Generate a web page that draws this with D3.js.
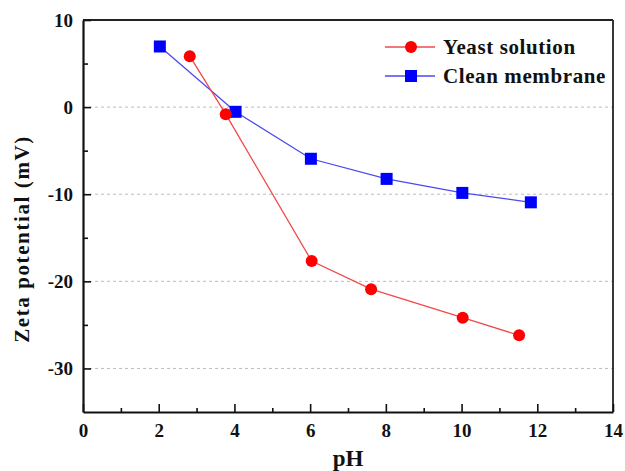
<!DOCTYPE html>
<html><head><meta charset="utf-8">
<script src="https://cdn.jsdelivr.net/npm/d3@7"></script>
<style>body{margin:0;background:#fff}svg{display:block}</style>
</head><body>
<script>
const yeastPH = [2.82, 3.77, 6.04, 7.61, 10.03, 11.52];
const yeastZeta = [5.85, -0.81, -17.67, -20.9, -24.17, -26.2];
const membranePH = [2.03, 4.03, 6.02, 8.02, 10.02, 11.83];
const membraneZeta = [6.96, -0.54, -5.93, -8.24, -9.85, -10.93];
const xTicks = [0, 2, 4, 6, 8, 10, 12, 14];
const yTicks = [-30, -20, -10, 0, 10];
const seriesNames = ["Yeast solution", "Clean membrane"];

const W = 625, H = 471;
const m = {l: 83, r: 12, t: 20, b: 59};
const svg = d3.select("body").append("svg").attr("width", W).attr("height", H);
const x = d3.scaleLinear().domain([0, 14]).range([m.l, W - m.r]);
const y = d3.scaleLinear().domain([-35, 10]).range([H - m.b, m.t]);
const font = "'Liberation Serif','Times New Roman',serif";

// grid
svg.append("g").selectAll("line").data([-30, -20, -10, 0]).join("line")
  .attr("x1", x(0)).attr("x2", x(14)).attr("y1", d => y(d)).attr("y2", d => y(d))
  .attr("stroke", "#bbb").attr("stroke-width", 1).attr("stroke-dasharray", "3,3");

// frame top/right
svg.append("line").attr("x1", x(0)).attr("x2", x(14)).attr("y1", y(10)).attr("y2", y(10)).attr("stroke", "#222").attr("stroke-width", 1.8);
svg.append("line").attr("x1", x(14)).attr("x2", x(14)).attr("y1", y(10)).attr("y2", y(-35)).attr("stroke", "#222").attr("stroke-width", 1.8);

// x axis
svg.append("g").attr("transform", `translate(0,${y(-35)})`)
  .call(d3.axisBottom(x).tickValues(xTicks).tickFormat(d => String(d)).tickSizeInner(-8).tickSizeOuter(0).tickPadding(12));
svg.append("g").attr("transform", `translate(0,${y(-35)})`)
  .call(d3.axisBottom(x).tickValues(d3.range(1, 14, 2)).tickFormat("").tickSizeInner(-4).tickSizeOuter(0))
  .call(g => g.select(".domain").remove());
// y axis
svg.append("g").attr("transform", `translate(${x(0)},0)`)
  .call(d3.axisLeft(y).tickValues(yTicks).tickFormat(d => String(d)).tickSizeInner(-8).tickSizeOuter(0).tickPadding(10));
svg.append("g").attr("transform", `translate(${x(0)},0)`)
  .call(d3.axisLeft(y).tickValues([5, -5, -15, -25]).tickFormat("").tickSizeInner(-5).tickSizeOuter(0))
  .call(g => g.select(".domain").remove());
svg.selectAll(".tick line").attr("stroke", "#111").attr("stroke-width", 1.6);
svg.selectAll(".domain").attr("stroke", "#111").attr("stroke-width", 2.2);
svg.selectAll(".tick text").attr("font-family", font).attr("font-weight", "bold").attr("font-size", 19).attr("fill", "#111");

// titles
svg.append("text").attr("x", x(7)).attr("y", 466).attr("text-anchor", "middle")
  .attr("font-family", font).attr("font-weight", "bold").attr("font-size", 23).attr("fill", "#111").text("pH");
svg.append("text").attr("transform", `translate(29,239) rotate(-90)`).attr("text-anchor", "middle")
  .attr("font-family", font).attr("font-weight", "bold").attr("font-size", 21).attr("letter-spacing", 1.6)
  .attr("fill", "#111").text("Zeta potential (mV)");

const line = d3.line().x(d => x(d[0])).y(d => y(d[1]));
const yeast = yeastPH.map((p, i) => [p, yeastZeta[i]]);
const memb = membranePH.map((p, i) => [p, membraneZeta[i]]);

svg.append("path").datum(memb).attr("d", line).attr("fill", "none").attr("stroke", "#4a4af0").attr("stroke-width", 1.3);
svg.append("path").datum(yeast).attr("d", line).attr("fill", "none").attr("stroke", "#f04a4a").attr("stroke-width", 1.3);
svg.append("g").selectAll("rect").data(memb).join("rect")
  .attr("x", d => x(d[0]) - 6).attr("y", d => y(d[1]) - 6).attr("width", 12).attr("height", 12).attr("fill", "#0000ff");
svg.append("g").selectAll("circle").data(yeast).join("circle")
  .attr("cx", d => x(d[0])).attr("cy", d => y(d[1])).attr("r", 6).attr("fill", "#ff0000");

// legend
const lg = svg.append("g");
const rows = [{name: seriesNames[0], c: "#f04a4a", m: "#ff0000", shape: "circle", yy: 47},
              {name: seriesNames[1], c: "#4a4af0", m: "#0000ff", shape: "rect", yy: 76}];
rows.forEach(r => {
  lg.append("line").attr("x1", 385).attr("x2", 435).attr("y1", r.yy).attr("y2", r.yy).attr("stroke", r.c).attr("stroke-width", 1.3);
  if (r.shape === "circle") lg.append("circle").attr("cx", 411).attr("cy", r.yy).attr("r", 6).attr("fill", r.m);
  else lg.append("rect").attr("x", 405).attr("y", r.yy - 6).attr("width", 12).attr("height", 12).attr("fill", r.m);
  lg.append("text").attr("x", 443).attr("y", r.yy + 7).attr("font-family", font).attr("font-weight", "bold")
    .attr("font-size", 21).attr("letter-spacing", 0.6).attr("fill", "#111").text(r.name);
});
</script>
</body></html>
